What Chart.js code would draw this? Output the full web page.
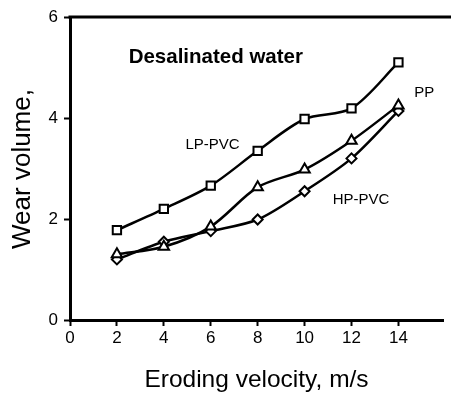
<!DOCTYPE html>
<html>
<head>
<meta charset="utf-8">
<script src="https://cdn.jsdelivr.net/npm/chart.js@4.4.0/dist/chart.umd.min.js"></script>
<style>
  html, body { margin: 0; padding: 0; background: #fff; }
  #wrap { width: 451px; height: 394px; }
</style>
</head>
<body>
<div id="wrap"><canvas id="myChart" width="451" height="394"></canvas></div>
<script>
// data
const velocity = [2, 4, 6, 8, 10, 12, 14];
const lpPvc = [1.78, 2.20, 2.66, 3.35, 3.98, 4.19, 5.10];
const pp = [1.30, 1.45, 1.85, 2.63, 2.98, 3.55, 4.25];
const hpPvc = [1.20, 1.55, 1.76, 1.99, 2.55, 3.20, 4.14];
const xTicks = [0, 2, 4, 6, 8, 10, 12, 14];
const yTicks = [0, 2, 4, 6];

// text labels placed in data units
const labelText = ['Desalinated water', 'PP', 'LP-PVC', 'HP-PVC'];
const labelX = [2.5, 14.67, 4.92, 11.2];
const labelY = [5.2, 4.5, 3.47, 2.38];
const labelBold = [true, false, false, false];

const FONT = 'Arial, "Liberation Sans", sans-serif';

const toPoints = (ys) => ys.map((y, i) => ({ x: velocity[i], y: y }));

const series = (label, ys, style, radius) => ({
    label: label,
    data: toPoints(ys),
    borderColor: '#000',
    borderWidth: 2.5,
    tension: 0.3,
    pointStyle: style,
    pointRadius: radius,
    pointHoverRadius: radius,
    pointBackgroundColor: '#fff',
    pointBorderColor: '#000',
    pointBorderWidth: 2,
});

// top frame line, axis titles and in-plot labels
const decorPlugin = {
    id: 'decor',
    afterDraw(chart) {
        const { ctx, chartArea, scales } = chart;
        ctx.save();
        ctx.strokeStyle = '#000';
        ctx.lineWidth = 3;
        ctx.beginPath();
        ctx.moveTo(chartArea.left - 1.5, chartArea.top);
        ctx.lineTo(chart.width, chartArea.top);
        ctx.stroke();

        ctx.fillStyle = '#000';
        ctx.textBaseline = 'middle';
        ctx.textAlign = 'left';
        labelText.forEach((t, i) => {
            ctx.font = (labelBold[i] ? 'bold 20.5px ' : '15px ') + FONT;
            ctx.fillText(t, scales.x.getPixelForValue(labelX[i]), scales.y.getPixelForValue(labelY[i]));
        });

        ctx.font = '24.5px ' + FONT;
        ctx.textAlign = 'center';
        ctx.fillText('Eroding velocity, m/s', (chartArea.left + chartArea.right) / 2, 380);

        ctx.save();
        ctx.translate(23, 169);
        ctx.rotate(-Math.PI / 2);
        ctx.font = '26px ' + FONT;
        ctx.fillText('Wear volume,', 0, 0);
        ctx.restore();
        ctx.restore();
    }
};

new Chart(document.getElementById('myChart'), {
    type: 'line',
    data: {
        datasets: [
            series('LP-PVC', lpPvc, 'rect', 5.9),
            series('PP', pp, 'triangle', 6),
            series('HP-PVC', hpPvc, 'rectRot', 5),
        ],
    },
    options: {
        responsive: false,
        animation: false,
        layout: { padding: { top: 17, right: 0, left: 0, bottom: 0 } },
        plugins: {
            legend: { display: false },
            tooltip: { enabled: false },
        },
        scales: {
            x: {
                type: 'linear',
                min: 0,
                max: 15.9,
                afterFit: (axis) => { axis.height = 74; },
                afterBuildTicks: (axis) => { axis.ticks = xTicks.map(v => ({ value: v })); },
                border: { color: '#000', width: 3 },
                grid: { drawOnChartArea: false, drawTicks: true, tickLength: 6, tickWidth: 2, tickColor: '#000' },
                ticks: { color: '#000', font: { family: FONT, size: 17 }, padding: 2, maxRotation: 0, autoSkip: false },
            },
            y: {
                min: 0,
                max: 6,
                afterFit: (axis) => { axis.width = 70; },
                afterBuildTicks: (axis) => { axis.ticks = yTicks.map(v => ({ value: v })); },
                border: { color: '#000', width: 3 },
                grid: { drawOnChartArea: false, drawTicks: true, tickLength: 6, tickWidth: 2, tickColor: '#000' },
                ticks: { color: '#000', font: { family: FONT, size: 17 }, padding: 6 },
            },
        },
    },
    plugins: [decorPlugin],
});
</script>
</body>
</html>
